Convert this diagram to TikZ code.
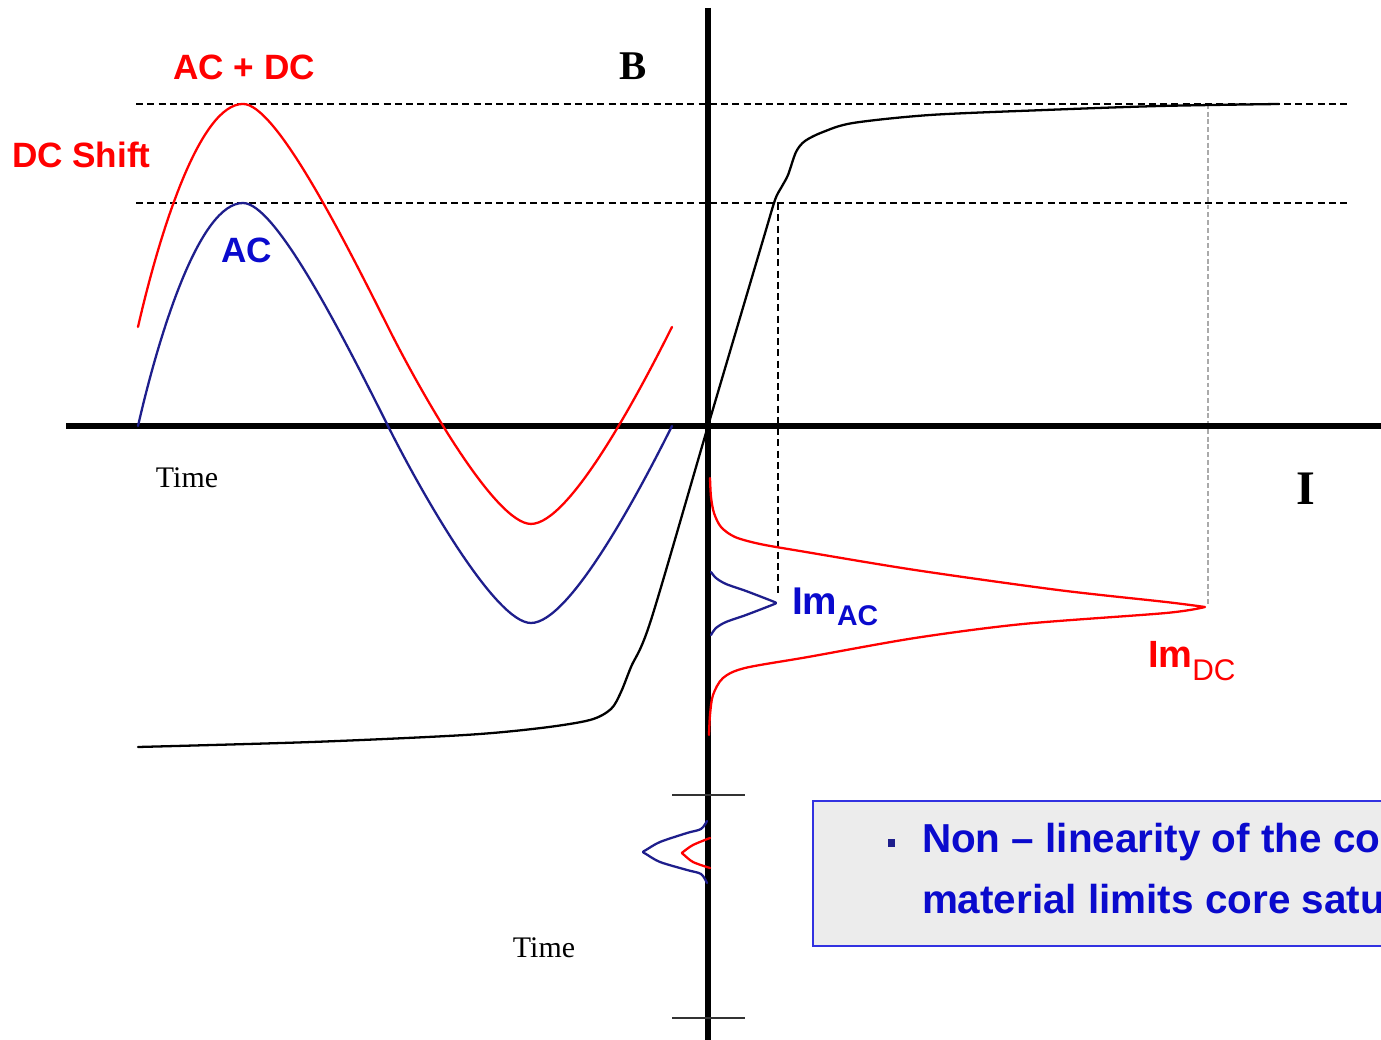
\documentclass[tikz,border=0pt]{standalone}
\usepackage{fontspec}
\newfontfamily\sansfnt{Liberation Sans}
\newfontfamily\seriffnt{Liberation Serif}
\definecolor{curveblue}{RGB}{30,30,140}
\definecolor{textblue}{RGB}{10,10,205}
\definecolor{boxblue}{RGB}{50,50,225}
\definecolor{boxfill}{RGB}{236,236,236}
\definecolor{mred}{RGB}{255,0,0}
\definecolor{gguidecol}{RGB}{170,170,170}
\begin{document}
\begin{tikzpicture}[x=0.01cm,y=-0.01cm,
  axisline/.style={line width=1.7pt},
  curveline/.style={line width=0.65pt, line join=round, line cap=round},
  guide/.style={line width=0.45pt, dash pattern=on 2pt off 1.2pt},
  gguide/.style={line width=0.75pt, gguidecol, dash pattern=on 1.4pt off 0.8pt},
  tickline/.style={line width=0.45pt, black!80},
  txt/.style={inner sep=0pt, outer sep=0pt},
  redlbl/.style={txt, mred, font=\sansfnt\bfseries\fontsize{10pt}{12pt}\selectfont},
  bluelbl/.style={txt, textblue, font=\sansfnt\bfseries\fontsize{10pt}{12pt}\selectfont},
  axislbl/.style={txt, font=\seriffnt\bfseries\fontsize{11.6pt}{13pt}\selectfont},
  timelbl/.style={txt, font=\seriffnt\fontsize{8.5pt}{10pt}\selectfont},
  boxtxt/.style={txt, textblue, font=\sansfnt\bfseries\fontsize{11.5pt}{13pt}\selectfont},
]
\useasboundingbox (0,0) rectangle (1381,1040);
\clip (0,0) rectangle (1381,1040);

% guide coordinates
\coordinate (h1l) at (136,104);
\coordinate (h1r) at (1348,104);
\coordinate (h2l) at (136,203);
\coordinate (h2r) at (1348,203);
\coordinate (vac1) at (778,203);
\coordinate (vac2) at (778,594);
\coordinate (vdc1) at (1208,104);
\coordinate (vdc2) at (1208,604);

\draw[guide] (h1l) -- (h1r);
\draw[guide] (h2l) -- (h2r);
\draw[guide] (vac1) -- (vac2);
\draw[gguide] (vdc1) -- (vdc2);

% axes
\coordinate (ytop) at (708,8);
\coordinate (ybot) at (708,1040);
\coordinate (xl) at (66,426);
\coordinate (xr) at (1381,426);
\draw[axisline] (ytop) -- (ybot);
\draw[axisline] (xl) -- (xr);

% time ticks
\coordinate (t1a) at (672,795);
\coordinate (t1b) at (745,795);
\coordinate (t2a) at (672,1018);
\coordinate (t2b) at (745,1018);
\draw[tickline] (t1a) -- (t1b);
\draw[tickline] (t2a) -- (t2b);

% AC wave and AC + DC wave (same wave shifted by the DC offset)
\def\acwave{(138,426) .. controls (160,330) and (200,203) .. (243,203)
  .. controls (275,203) and (340,330) .. (388,426)
  .. controls (420,490) and (495,623) .. (531,623)
  .. controls (570,623) and (640,490) .. (672,426)}
\draw[curveline, mred, yshift=0.99cm] \acwave;
\draw[curveline, curveblue] \acwave;

% B-H curve
\draw[curveline, black] plot[smooth, tension=0.5] coordinates {
  (138,747) (312,742) (465,735) (541,728) (590,720) (611,709) (621,692) (631,667) (651,620)
  (708,426) (763,240) (775,200) (781,188) (788,175) (796,152) (805,141) (823,132) (853,123)
  (930,115) (1045,110) (1160,106) (1279,104)};

% Im DC pulse
\draw[curveline, mred] plot[smooth, tension=0.5] coordinates {
  (710,478) (711,497) (714,513) (721,527) (735,537) (760,544) (800,551) (915,570) (1058,590) (1166,602) (1205,607)}
  -- plot[smooth, tension=0.5] coordinates {
  (1205,607) (1166,613) (1023,624) (915,638) (808,657) (745,668) (723,678) (713,695) (710,715) (709,735)};

% Im AC pulse
\draw[curveline, curveblue] plot[smooth, tension=0.5] coordinates {
  (711,572) (716,578) (726,584) (746,591) (772,601) (776,603) (772,605) (746,615) (726,622) (716,628) (711,635)};

% small pulses on time axis
\draw[curveline, curveblue] plot[smooth, tension=0.5] coordinates {
  (707,821) (701,829) (687,833) (660,842) (646,850) (643,852) (646,854) (660,862) (687,870) (701,874) (707,883)};
\draw[curveline, mred] plot[smooth, tension=0.5] coordinates {
  (710,838) (693,845) (683,852) (682,853) (683,854) (693,862) (710,868)};

% labels
\node[redlbl, anchor=base] (acdc) at (244,80) {AC + DC};
\node[redlbl, anchor=base west] (dcshift) at (12,168) {DC Shift};
\node[bluelbl, anchor=base] (aclbl) at (247,263) {AC};
\node[axislbl, anchor=base] (Blbl) at (633,80) {B};
\node[axislbl, anchor=base, font=\seriffnt\bfseries\fontsize{13.7pt}{15pt}\selectfont] (Ilbl) at (1306,505) {I};
\node[timelbl, anchor=base] (time1) at (187,488) {Time};
\node[timelbl, anchor=base] (time2) at (544,958) {Time};
\node[txt, textblue, anchor=base west, font=\sansfnt\bfseries\fontsize{11pt}{12pt}\selectfont] (imac) at (792,615)
  {Im\raisebox{-0.1cm}{\fontsize{8.1pt}{9pt}\selectfont AC}};
\node[txt, mred, anchor=base west, font=\sansfnt\bfseries\fontsize{10.8pt}{12pt}\selectfont] (imdc) at (1148,668)
  {Im\raisebox{-0.12cm}{\mdseries\fontsize{8.5pt}{9pt}\selectfont DC}};

% text box
\node[draw=boxblue, line width=0.6pt, fill=boxfill, anchor=north west,
      minimum width=6cm, minimum height=1.45cm, inner sep=0pt] (tbox) at (812,800) {};
\node[fill=curveblue, minimum size=0.07cm, inner sep=0pt] (bullet) at (891,843) {};
\node[boxtxt, anchor=base west] (line1) at (922,853) {Non – linearity of the co};
\node[boxtxt, anchor=base west] (line2) at (922,913) {material limits core satu};
\end{tikzpicture}
\end{document}
